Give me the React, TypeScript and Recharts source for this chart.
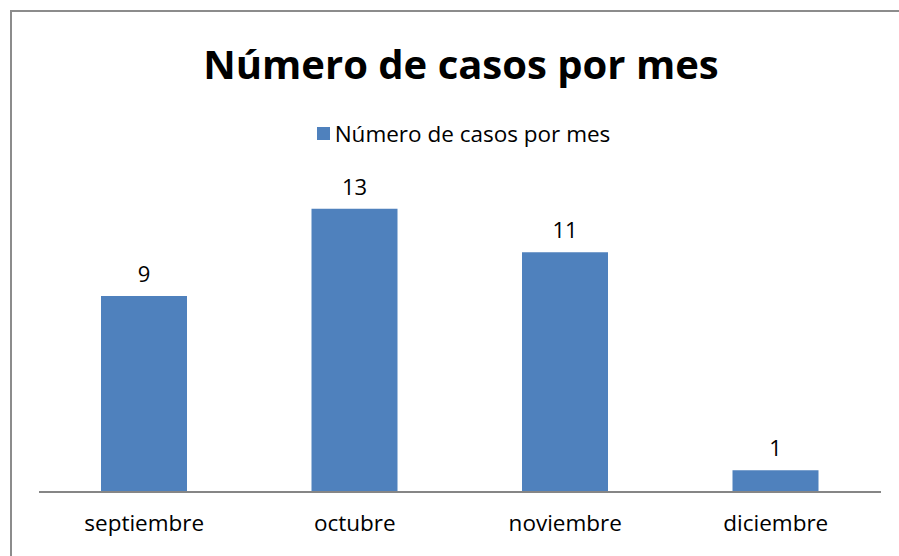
import React from "react";
import { BarChart, Bar, XAxis, YAxis, Legend, LabelList } from "recharts";

const months = ["septiembre", "octubre", "noviembre", "diciembre"];
const cases = [9, 13, 11, 1];
const seriesName = "Número de casos por mes";
const title = "Número de casos por mes";

const data = months.map((m, i) => ({ month: m, value: cases[i] }));

const FONT = "'Open Sans', sans-serif";
const BLUE = "#4f81bd";

const renderLegend = () => (
  <div style={{ display: "flex", justifyContent: "center", alignItems: "center", fontFamily: FONT, fontSize: 22.5, color: "#000" }}>
    <span style={{ display: "inline-block", width: 13, height: 13, background: BLUE, marginRight: 5 }} />
    <span>{seriesName}</span>
  </div>
);

export default function App() {
  return (
    <div style={{ position: "absolute", left: 0, top: 0, width: 899, height: 556, background: "#fff", overflow: "hidden" }}>
      <div style={{ position: "absolute", left: 10, top: 10, width: 900, height: 560, borderLeft: "2px solid #8c8c8c", borderTop: "2px solid #8c8c8c" }} />
      <div style={{ position: "absolute", left: 0, top: 36, width: 922, textAlign: "center", fontFamily: FONT, fontWeight: 700, fontSize: 40, color: "#000", lineHeight: "56px" }}>
        {title}
      </div>
      <BarChart width={899} height={556} data={data} margin={{ top: 187, right: 18, bottom: 0, left: 39 }} style={{ position: "absolute", left: 0, top: 0 }}>
        <XAxis dataKey="month" height={64} axisLine={{ stroke: "#868686", strokeWidth: 2 }} tickLine={false} tick={{ fill: "#000", fontSize: 22.5, fontFamily: FONT }} dy={15} />
        <YAxis hide domain={[0, 14]} />
        <Legend layout="vertical" align="center" verticalAlign="middle" content={renderLegend} wrapperStyle={{ top: 118, left: 14, width: 899 }} />
        <Bar dataKey="value" name={seriesName} fill={BLUE} barSize={86} isAnimationActive={false}>
          <LabelList dataKey="value" position="top" offset={14} style={{ fill: "#000", fontSize: 22, fontFamily: FONT }} />
        </Bar>
      </BarChart>
    </div>
  );
}
